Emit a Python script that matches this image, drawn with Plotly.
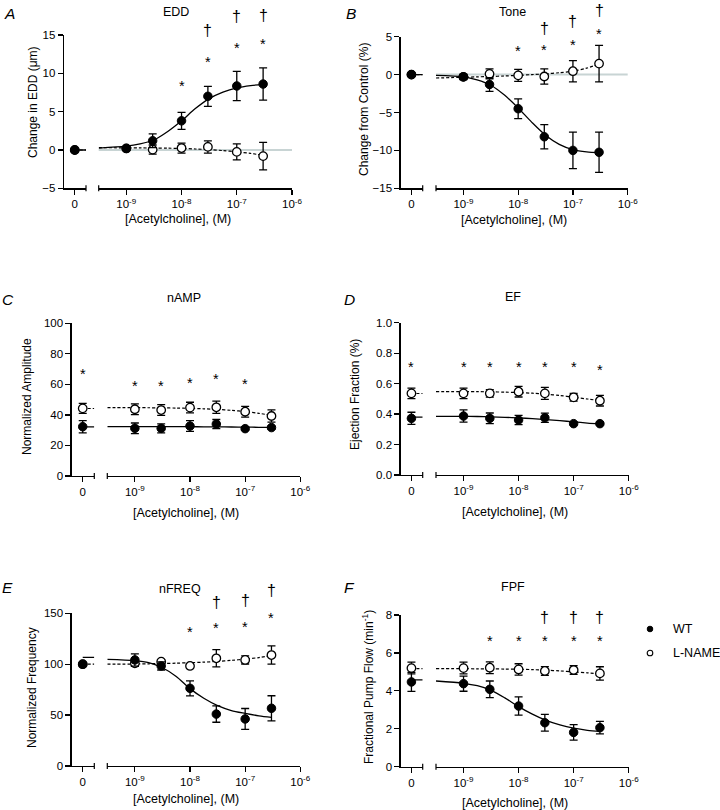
import numpy as np
import plotly.graph_objects as go

# ---------------- data ----------------
CONC = [1e-9, 3e-9, 1e-8, 3e-8, 1e-7, 3e-7]
CURVE_LOGX = [-9.5, -9.0, -8.75, -8.5, -8.25, -8.0, -7.75, -7.5, -7.25, -7.0, -6.75, -6.52]
LOG_TICKS = [1e-9, 1e-8, 1e-7, 1e-6]
LOG_TICKTEXT = ["10<sup>-9</sup>", "10<sup>-8</sup>", "10<sup>-7</sup>", "10<sup>-6</sup>"]
SERIES_NAMES = ["WT", "L-NAME"]

# A: EDD
A_WT0, A_WT0_ERR = 0.0, 0.0
A_WT = [0.2, 1.2, 3.8, 7.0, 8.35, 8.6]
A_WT_ERR = [0.15, 0.9, 1.1, 1.3, 1.9, 2.1]
A_LN0, A_LN0_ERR = 0.0, 0.0
A_LN = [0.2, 0.05, 0.25, 0.4, -0.25, -0.8]
A_LN_ERR = [0.15, 0.6, 0.65, 0.8, 1.05, 1.8]
A_FIT_WT = [0.25, 0.5, 0.8, 1.3, 2.4, 3.8, 5.4, 6.7, 7.55, 8.1, 8.4, 8.55]
A_FIT_LN = [0.3, 0.28, 0.27, 0.25, 0.23, 0.2, 0.13, 0.05, -0.08, -0.25, -0.45, -0.7]
A_ZERO_FIT_WT, A_ZERO_FIT_LN = 0.0, 0.0
A_STAR_X = [1e-8, 3e-8, 1e-7, 3e-7]
A_STAR_Y = [8.6, 11.8, 13.6, 14.1]
A_DAG_X = [3e-8, 1e-7, 3e-7]
A_DAG_Y = [15.65, 17.4, 17.6]

# B: Tone
B_WT0, B_WT0_ERR = 0.0, 0.0
B_WT = [-0.3, -1.3, -4.5, -8.2, -10.0, -10.25]
B_WT_ERR = [0.35, 0.9, 1.3, 1.6, 2.4, 2.65]
B_LN0, B_LN0_ERR = 0.0, 0.0
B_LN = [-0.3, 0.1, -0.1, -0.25, 0.45, 1.45]
B_LN_ERR = [0.3, 0.65, 0.8, 1.0, 1.4, 2.4]
B_FIT_WT = [-0.1, -0.3, -0.7, -1.4, -2.7, -4.4, -6.3, -8.0, -9.2, -9.9, -10.2, -10.3]
B_FIT_LN = [-0.45, -0.35, -0.3, -0.25, -0.18, -0.1, 0.0, 0.1, 0.25, 0.45, 0.85, 1.4]
B_ZERO_FIT_WT, B_ZERO_FIT_LN = 0.0, 0.0
B_STAR_X = [1e-8, 3e-8, 1e-7, 3e-7]
B_STAR_Y = [3.34, 3.47, 4.2, 5.66]
B_DAG_X = [3e-8, 1e-7, 3e-7]
B_DAG_Y = [6.1, 7.07, 8.4]

# C: nAMP
C_WT0, C_WT0_ERR = 32.3, 4.0
C_WT = [31.2, 31.2, 32.7, 34.0, 31.0, 31.7]
C_WT_ERR = [3.5, 3.0, 3.5, 3.0, 1.0, 1.0]
C_LN0, C_LN0_ERR = 44.3, 3.3
C_LN = [43.7, 43.2, 44.8, 45.0, 42.1, 39.3]
C_LN_ERR = [3.5, 3.5, 3.5, 4.0, 3.5, 4.0]
C_FIT_WT = [32.3, 32.3, 32.3, 32.3, 32.3, 32.3, 32.2, 32.2, 32.1, 32.0, 31.9, 31.8]
C_FIT_LN = [44.8, 44.8, 44.7, 44.6, 44.5, 44.3, 44.0, 43.6, 43.0, 42.2, 41.0, 39.8]
C_ZERO_FIT_WT, C_ZERO_FIT_LN = 32.2, 44.2
C_STAR0_Y = 68.3
C_STAR_X = [1e-9, 3e-9, 1e-8, 3e-8, 1e-7]
C_STAR_Y = [60.3, 60.3, 62.4, 65.0, 61.4]

# D: EF
D_WT0, D_WT0_ERR = 0.372, 0.04
D_WT = [0.387, 0.372, 0.361, 0.376, 0.337, 0.337]
D_WT_ERR = [0.04, 0.035, 0.03, 0.03, 0.008, 0.008]
D_LN0, D_LN0_ERR = 0.536, 0.035
D_LN = [0.536, 0.536, 0.547, 0.536, 0.51, 0.488]
D_LN_ERR = [0.035, 0.025, 0.035, 0.04, 0.025, 0.035]
D_FIT_WT = [0.385, 0.385, 0.384, 0.382, 0.379, 0.375, 0.370, 0.364, 0.357, 0.349, 0.341, 0.335]
D_FIT_LN = [0.548, 0.548, 0.547, 0.546, 0.544, 0.541, 0.537, 0.531, 0.522, 0.511, 0.499, 0.489]
D_ZERO_FIT_WT, D_ZERO_FIT_LN = 0.38, 0.535
D_STAR0_Y = 0.722
D_STAR_X = [1e-9, 3e-9, 1e-8, 3e-8, 1e-7, 3e-7]
D_STAR_Y = [0.722, 0.722, 0.722, 0.722, 0.722, 0.705]

# E: nFREQ
E_WT0, E_WT0_ERR = 100.0, 0.0
E_WT = [104.2, 98.3, 76.3, 51.0, 46.2, 56.7]
E_WT_ERR = [6.0, 4.0, 7.4, 8.0, 10.3, 12.3]
E_LN0, E_LN0_ERR = 100.0, 0.0
E_LN = [100.9, 102.5, 98.3, 105.8, 104.2, 109.0]
E_LN_ERR = [3.0, 1.5, 1.5, 8.5, 4.0, 9.0]
E_FIT_WT = [104.8, 103.5, 101.5, 96.5, 88.0, 76.0, 66.5, 59.3, 54.5, 51.7, 49.3, 47.8]
E_FIT_LN = [100.0, 100.2, 100.4, 100.7, 101.0, 101.5, 102.0, 102.8, 103.8, 105.0, 106.5, 108.5]
E_ZERO_FIT_WT, E_ZERO_FIT_LN = 106.8, 100.0
E_STAR_X = [1e-8, 3e-8, 1e-7, 3e-7]
E_STAR_Y = [133.6, 137.6, 138.5, 147.4]
E_DAG_X = [3e-8, 1e-7, 3e-7]
E_DAG_Y = [160.5, 163.0, 172.0]

# F: FPF
F_WT0, F_WT0_ERR = 4.47, 0.5
F_WT = [4.38, 4.08, 3.2, 2.32, 1.81, 2.06]
F_WT_ERR = [0.4, 0.44, 0.48, 0.44, 0.41, 0.33]
F_LN0, F_LN0_ERR = 5.2, 0.31
F_LN = [5.2, 5.22, 5.13, 5.05, 5.1, 4.92]
F_LN_ERR = [0.31, 0.31, 0.3, 0.23, 0.23, 0.35]
F_FIT_WT = [4.52, 4.40, 4.27, 4.03, 3.63, 3.17, 2.77, 2.44, 2.2, 2.03, 1.92, 1.86]
F_FIT_LN = [5.17, 5.17, 5.16, 5.16, 5.15, 5.14, 5.12, 5.09, 5.05, 5.0, 4.95, 4.9]
F_ZERO_FIT_WT, F_ZERO_FIT_LN = 4.58, 5.17
F_STAR_X = [3e-9, 1e-8, 3e-8, 1e-7, 3e-7]
F_STAR_Y = [6.72, 6.72, 6.72, 6.72, 6.72]
F_DAG_X = [3e-8, 1e-7, 3e-7]
F_DAG_Y = [7.88, 7.88, 7.88]

# ---------------- layout / styling ----------------
W, H = 720, 810
FONT = "Arial, Liberation Sans, Helvetica, sans-serif"
ZERO_RANGE = [-1.0, 1.05]
LOG_RANGE = [-9.5, -6.0]
STAR_SHIFT = -2
DAG_SHIFT = 0


def fx(p):
    return p / W


def fy(p):
    return 1 - p / H


panels = [
    dict(letter="A", title="EDD", ytitle="Change in EDD (\u03bcm)",
         yrange=[-5, 15], ytick=[-5, 0, 5, 10, 15], yfmt=None,
         yax=64, zend=86, lstart=98.7, lend=292, ytop=35, ybot=188.3,
         title_xy=(175.7, 12), letter_xy=(9, 13), ytitle_xy=(33, 102), xtitle_y=219,
         wt0=(A_WT0, A_WT0_ERR), ln0=(A_LN0, A_LN0_ERR),
         wt=(A_WT, A_WT_ERR), ln=(A_LN, A_LN_ERR), fit=(A_FIT_WT, A_FIT_LN),
         zfit=(A_ZERO_FIT_WT, A_ZERO_FIT_LN), baseline=True,
         stars=(A_STAR_X, A_STAR_Y), dags=(A_DAG_X, A_DAG_Y), star0=None),
    dict(letter="B", title="Tone", ytitle="Change from Control (%)",
         yrange=[-15, 5], ytick=[-15, -10, -5, 0, 5], yfmt=None,
         yax=400.7, zend=422.7, lstart=436, lend=627.7, ytop=36.7, ybot=188.3,
         title_xy=(512, 12), letter_xy=(350.5, 13), ytitle_xy=(364, 110), xtitle_y=220,
         wt0=(B_WT0, B_WT0_ERR), ln0=(B_LN0, B_LN0_ERR),
         wt=(B_WT, B_WT_ERR), ln=(B_LN, B_LN_ERR), fit=(B_FIT_WT, B_FIT_LN),
         zfit=(B_ZERO_FIT_WT, B_ZERO_FIT_LN), baseline=True,
         stars=(B_STAR_X, B_STAR_Y), dags=(B_DAG_X, B_DAG_Y), star0=None),
    dict(letter="C", title="nAMP", ytitle="Normalized Amplitude",
         yrange=[0, 100], ytick=[0, 20, 40, 60, 80, 100], yfmt=None,
         yax=71.7, zend=94.3, lstart=107.3, lend=300.3, ytop=323.3, ybot=476,
         title_xy=(184, 298), letter_xy=(7.5, 299), ytitle_xy=(27, 397), xtitle_y=513,
         wt0=(C_WT0, C_WT0_ERR), ln0=(C_LN0, C_LN0_ERR),
         wt=(C_WT, C_WT_ERR), ln=(C_LN, C_LN_ERR), fit=(C_FIT_WT, C_FIT_LN),
         zfit=(C_ZERO_FIT_WT, C_ZERO_FIT_LN), baseline=False,
         stars=(C_STAR_X, C_STAR_Y), dags=None, star0=C_STAR0_Y),
    dict(letter="D", title="EF", ytitle="Ejection Fraction (%)",
         yrange=[0, 1], ytick=[0, 0.2, 0.4, 0.6, 0.8, 1.0], yfmt=".1f",
         yax=400.7, zend=422.7, lstart=436, lend=628.7, ytop=322.7, ybot=475,
         title_xy=(513, 296.7), letter_xy=(349, 299), ytitle_xy=(355, 395), xtitle_y=512,
         wt0=(D_WT0, D_WT0_ERR), ln0=(D_LN0, D_LN0_ERR),
         wt=(D_WT, D_WT_ERR), ln=(D_LN, D_LN_ERR), fit=(D_FIT_WT, D_FIT_LN),
         zfit=(D_ZERO_FIT_WT, D_ZERO_FIT_LN), baseline=False,
         stars=(D_STAR_X, D_STAR_Y), dags=None, star0=D_STAR0_Y),
    dict(letter="E", title="nFREQ", ytitle="Normalized Frequency",
         yrange=[0, 150], ytick=[0, 50, 100, 150], yfmt=None,
         yax=71.7, zend=94.3, lstart=107.3, lend=300.3, ytop=613.3, ybot=766,
         title_xy=(180, 589), letter_xy=(7.5, 587.5), ytitle_xy=(32, 688), xtitle_y=799,
         wt0=(E_WT0, E_WT0_ERR), ln0=(E_LN0, E_LN0_ERR),
         wt=(E_WT, E_WT_ERR), ln=(E_LN, E_LN_ERR), fit=(E_FIT_WT, E_FIT_LN),
         zfit=(E_ZERO_FIT_WT, E_ZERO_FIT_LN), baseline=False,
         stars=(E_STAR_X, E_STAR_Y), dags=(E_DAG_X, E_DAG_Y), star0=None),
    dict(letter="F", title="FPF", ytitle="Fractional Pump Flow (min<sup>-1</sup>)",
         yrange=[0, 8], ytick=[0, 2, 4, 6, 8], yfmt=None,
         yax=400.7, zend=422.7, lstart=436, lend=628.7, ytop=615, ybot=766.7,
         title_xy=(512.7, 586.7), letter_xy=(349, 587.5), ytitle_xy=(368, 687), xtitle_y=803,
         wt0=(F_WT0, F_WT0_ERR), ln0=(F_LN0, F_LN0_ERR),
         wt=(F_WT, F_WT_ERR), ln=(F_LN, F_LN_ERR), fit=(F_FIT_WT, F_FIT_LN),
         zfit=(F_ZERO_FIT_WT, F_ZERO_FIT_LN), baseline=False,
         stars=(F_STAR_X, F_STAR_Y), dags=(F_DAG_X, F_DAG_Y), star0=None),
]

curve_x = [10 ** v for v in CURVE_LOGX]
MS = 8.5
ERR = dict(type="data", visible=True, color="black", thickness=1.3, width=4)
WT_MARKER = dict(symbol="circle", size=MS, color="black", line=dict(color="black", width=1))
LN_MARKER = dict(symbol="circle", size=MS, color="white", line=dict(color="black", width=1.3))

fig = go.Figure()
layout = dict(
    template="none",
    width=W, height=H, margin=dict(l=0, r=0, t=0, b=0, pad=0, autoexpand=False),
    paper_bgcolor="white", plot_bgcolor="white",
    font=dict(family=FONT, size=12, color="black"),
    showlegend=False,
)
annotations = []
shapes = []

axis_common = dict(showgrid=False, zeroline=False, showline=True, linecolor="black",
                   linewidth=1.3, ticks="outside", ticklen=5, tickwidth=1.2,
                   tickcolor="black", fixedrange=True, automargin=False,
                   tickfont=dict(size=11.5, color="black", family=FONT))

for i, p in enumerate(panels):
    yn = i + 1
    xz = 2 * i + 1
    xl = 2 * i + 2
    yname = "y" if yn == 1 else f"y{yn}"
    xzname = "x" if xz == 1 else f"x{xz}"
    xlname = f"x{xl}"
    y0, y1 = p["yrange"]

    layout["xaxis" if xz == 1 else f"xaxis{xz}"] = dict(
        axis_common, domain=[fx(p["yax"]), fx(p["zend"])], range=ZERO_RANGE,
        tickmode="array", tickvals=[0], ticktext=["0"], anchor=yname)
    layout[f"xaxis{xl}"] = dict(
        axis_common, type="log", domain=[fx(p["lstart"]), fx(p["lend"])], range=LOG_RANGE,
        tickmode="array", tickvals=LOG_TICKS, ticktext=LOG_TICKTEXT, anchor=yname)
    ydict = dict(axis_common, domain=[fy(p["ybot"]), fy(p["ytop"])], range=p["yrange"],
                 tickmode="array", tickvals=p["ytick"], anchor=xzname)
    if p["yfmt"]:
        ydict["tickformat"] = p["yfmt"]
    layout["yaxis" if yn == 1 else f"yaxis{yn}"] = ydict

    # baseline (grey) at zero
    if p["baseline"]:
        shapes.append(dict(type="line", xref=f"{xlname} domain", yref=yname,
                           x0=0, x1=1, y0=0, y1=0, layer="below",
                           line=dict(color="#c8d4d4", width=2)))
    # axis break marks
    ylen = p["ybot"] - p["ytop"]
    hh = 3.0 / ylen
    shapes.append(dict(type="line", xref=f"{xzname} domain", yref=f"{yname} domain",
                       x0=1, x1=1, y0=-hh, y1=hh, line=dict(color="black", width=1.2)))
    shapes.append(dict(type="line", xref=f"{xlname} domain", yref=f"{yname} domain",
                       x0=0, x1=0, y0=-hh, y1=hh, line=dict(color="black", width=1.2)))

    # zero-segment fit lines
    fig.add_trace(go.Scatter(x=[0, ZERO_RANGE[1]], y=[p["zfit"][1]] * 2, mode="lines",
                             line=dict(color="black", width=1.2, dash="3px,2px"),
                             xaxis=xzname, yaxis=yname, hoverinfo="skip"))
    fig.add_trace(go.Scatter(x=[0, ZERO_RANGE[1]], y=[p["zfit"][0]] * 2, mode="lines",
                             line=dict(color="black", width=1.3),
                             xaxis=xzname, yaxis=yname, hoverinfo="skip"))
    # fitted curves (log segment)
    fig.add_trace(go.Scatter(x=curve_x, y=p["fit"][1], mode="lines",
                             line=dict(color="black", width=1.2, dash="3px,2px", shape="spline", smoothing=0.8),
                             xaxis=xlname, yaxis=yname, hoverinfo="skip"))
    fig.add_trace(go.Scatter(x=curve_x, y=p["fit"][0], mode="lines",
                             line=dict(color="black", width=1.3, shape="spline", smoothing=0.8),
                             xaxis=xlname, yaxis=yname, hoverinfo="skip"))
    # L-NAME points
    fig.add_trace(go.Scatter(x=[0], y=[p["ln0"][0]], mode="markers", marker=LN_MARKER,
                             error_y=dict(ERR, array=[p["ln0"][1]]), cliponaxis=False,
                             xaxis=xzname, yaxis=yname, name=SERIES_NAMES[1]))
    fig.add_trace(go.Scatter(x=CONC, y=p["ln"][0], mode="markers", marker=LN_MARKER,
                             error_y=dict(ERR, array=p["ln"][1]), cliponaxis=False,
                             xaxis=xlname, yaxis=yname, name=SERIES_NAMES[1]))
    # WT points
    fig.add_trace(go.Scatter(x=[0], y=[p["wt0"][0]], mode="markers", marker=WT_MARKER,
                             error_y=dict(ERR, array=[p["wt0"][1]]), cliponaxis=False,
                             xaxis=xzname, yaxis=yname, name=SERIES_NAMES[0]))
    fig.add_trace(go.Scatter(x=CONC, y=p["wt"][0], mode="markers", marker=WT_MARKER,
                             error_y=dict(ERR, array=p["wt"][1]), cliponaxis=False,
                             xaxis=xlname, yaxis=yname, name=SERIES_NAMES[0]))

    # significance marks (y given as fraction of the y-axis domain so they may sit above the range)
    def yfrac(v):
        return (v - y0) / (y1 - y0)

    for sx, sy in zip(*p["stars"]):
        annotations.append(dict(x=np.log10(sx), y=yfrac(sy), xref=xlname, yref=f"{yname} domain",
                                text="*", showarrow=False, font=dict(size=14.5, color="black"),
                                xanchor="center", yanchor="middle", yshift=STAR_SHIFT))
    if p["star0"] is not None:
        annotations.append(dict(x=0, y=yfrac(p["star0"]), xref=xzname, yref=f"{yname} domain",
                                text="*", showarrow=False, font=dict(size=14.5, color="black"),
                                xanchor="center", yanchor="middle", yshift=STAR_SHIFT))
    if p["dags"]:
        for dx, dy in zip(*p["dags"]):
            annotations.append(dict(x=np.log10(dx), y=yfrac(dy), xref=xlname, yref=f"{yname} domain",
                                    text="\u2020", showarrow=False, font=dict(size=16, color="black"),
                                    xanchor="center", yanchor="middle", yshift=DAG_SHIFT))

    # texts
    annotations.append(dict(x=fx(p["title_xy"][0]), y=fy(p["title_xy"][1]), xref="paper", yref="paper",
                            text=p["title"], showarrow=False, font=dict(size=12.5),
                            xanchor="center", yanchor="middle"))
    annotations.append(dict(x=fx(p["letter_xy"][0]), y=fy(p["letter_xy"][1]), xref="paper", yref="paper",
                            text=f"<i>{p['letter']}</i>", showarrow=False, font=dict(size=15.5),
                            xanchor="center", yanchor="middle"))
    annotations.append(dict(x=fx(p["ytitle_xy"][0]), y=fy(p["ytitle_xy"][1]), xref="paper", yref="paper",
                            text=p["ytitle"], showarrow=False, font=dict(size=12), textangle=-90,
                            xanchor="center", yanchor="middle"))
    annotations.append(dict(x=fx((p["yax"] + p["lend"]) / 2), y=fy(p["xtitle_y"]), xref="paper", yref="paper",
                            text="[Acetylcholine], (M)", showarrow=False, font=dict(size=12.5),
                            xanchor="center", yanchor="middle"))

# legend (drawn as key symbols + labels)
LEG_SYM_X, LEG_TXT_X = 650, 671
LEG_Y = [629, 653]
shapes.append(dict(type="circle", xref="paper", yref="paper",
                   x0=fx(LEG_SYM_X - 2.8), x1=fx(LEG_SYM_X + 2.8),
                   y0=fy(LEG_Y[0] + 2.8), y1=fy(LEG_Y[0] - 2.8),
                   fillcolor="black", line=dict(color="black", width=1)))
shapes.append(dict(type="circle", xref="paper", yref="paper",
                   x0=fx(LEG_SYM_X - 2.8), x1=fx(LEG_SYM_X + 2.8),
                   y0=fy(LEG_Y[1] + 2.8), y1=fy(LEG_Y[1] - 2.8),
                   fillcolor="white", line=dict(color="black", width=1.1)))
for name, ly in zip(SERIES_NAMES, LEG_Y):
    annotations.append(dict(x=fx(LEG_TXT_X), y=fy(ly), xref="paper", yref="paper", text=name,
                            showarrow=False, font=dict(size=12.5), xanchor="left", yanchor="middle"))

layout["annotations"] = annotations
layout["shapes"] = shapes
fig.update_layout(**layout)
fig.write_html("out.html", config={"displayModeBar": False, "staticPlot": True},
               post_script="document.body.style.margin='0';document.body.style.padding='0';")
